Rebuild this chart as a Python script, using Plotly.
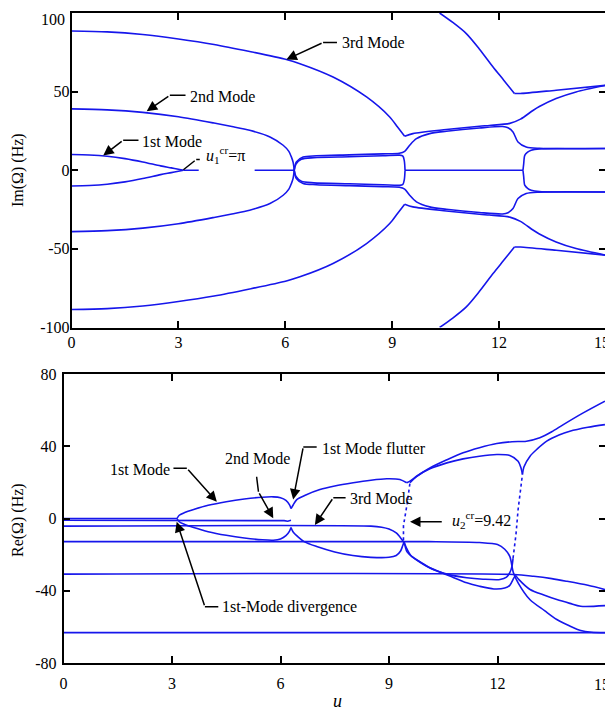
import plotly.graph_objects as go

# ---------------- Top panel: Im(Omega) (Hz) -- upper branches (lower half is the conjugate) --------------
u_t_mode1 = [0, 0.5, 1.0, 1.5, 2.0, 2.5, 2.8, 3.0, 3.14]
im_t_mode1 = [10, 9.7, 8.9, 7.4, 5.3, 2.8, 1.5, 0.6, 0]

u_t_zero_a = [3.14, 3.57]
im_t_zero_a = [0, 0]
u_t_zero_b = [5.14, 6.25]
im_t_zero_b = [0, 0]

u_t_mode2 = [0, 1, 2, 3, 4, 4.5, 5.0, 5.57, 5.94, 6.1, 6.17, 6.22, 6.25]
im_t_mode2 = [39, 38.4, 36.8, 34, 30, 27.8, 25.4, 21.2, 15.9, 12, 8.5, 5, 0]

u_t_mode3a = [0, 1, 2, 3, 4, 5, 6.03, 6.41, 7.34, 8.28, 8.93, 9.15, 9.35]
im_t_mode3a = [88.6, 88, 86.3, 83.5, 80, 75.5, 70.4, 67.8, 59.3, 46.6, 33.9, 27.5, 21.6]
u_t_mode3b = [9.35, 9.58, 10.52, 11.45, 11.73, 12.3, 12.6, 12.95, 13.13, 13.6, 14.16, 15]
im_t_mode3b = [21.6, 23.3, 25.9, 28, 28.5, 29.8, 32.5, 38, 40.5, 45.6, 49.8, 54]

u_t_flut_a = [6.25, 6.31, 6.5, 6.87, 7.8, 8.74, 9.2, 9.35, 9.49, 9.68, 10.05, 10.52, 11.45,
              12.1, 12.25, 12.39, 12.53, 12.76, 13.13, 15]
im_t_flut_a = [0, 5.3, 8.4, 9.2, 9.8, 10.4, 10.8, 12, 15.9, 20.1, 23.3, 24.8, 26.9,
               27.8, 27, 24.4, 18, 14.8, 13.9, 13.8]

u_t_flut_b1 = [6.25, 6.3, 6.45, 6.8, 7.8, 8.74, 9.2, 9.3, 9.34, 9.36]
im_t_flut_b1 = [0, 4, 7, 8, 8.6, 9.2, 9.6, 9, 6, 0]
u_t_zero_c = [9.36, 12.67]
im_t_zero_c = [0, 0]
u_t_flut_b2 = [12.67, 12.69, 12.72, 12.8, 12.9, 13.13, 14, 15]
im_t_flut_b2 = [0, 4, 9.5, 11.5, 12.7, 13.6, 13.8, 13.8]

u_t_mode4a = [10.33, 10.7, 11.08, 11.45, 11.83, 12.13, 12.43]
im_t_mode4a = [100, 94, 86.9, 77, 65.7, 57.3, 48.8]
u_t_mode4b = [12.43, 12.6, 13.6, 15]
im_t_mode4b = [48.8, 48.8, 50.9, 54]

# ---------------- Bottom panel: Re(Omega) (Hz) ----------------
u_b_m1_zero = [0, 3.14]
re_b_m1_zero = [0, 0]
u_b_loop_up = [3.14, 3.2, 3.35, 3.6, 4.0, 4.5, 5.0, 5.5, 5.8, 6.0, 6.15, 6.25, 6.29]
re_b_loop_up = [0, 1.8, 3.3, 5, 7.3, 9.3, 10.8, 11.8, 12, 11.5, 10, 7.5, 5.5]
u_b_flut_up = [6.29, 6.35, 6.45, 6.7, 7.09, 7.5, 8.01, 8.5, 8.94, 9.3, 9.49]
re_b_flut_up = [5.5, 7.5, 10.5, 13, 16, 18, 19.8, 21.2, 22, 21.6, 19.8]
u_b_top = [9.49, 9.6, 9.76, 10.13, 10.6, 11.05, 11.5, 11.98, 12.4, 12.8, 13.17, 13.5, 13.82,
           14.37, 14.97]
re_b_top = [19.8, 21, 23.4, 28, 32.5, 36.4, 39.2, 41.5, 42.5, 42.8, 44.7, 48, 52, 58.5, 65]

u_b_loop_low = [3.14, 3.2, 3.35, 3.6, 4.0, 4.5, 5.0, 5.5, 5.8, 6.0, 6.15, 6.25, 6.29]
re_b_loop_low = [0, -1.8, -3.3, -5, -7.3, -9.3, -10.8, -11.8, -12, -11.3, -9.5, -7, -5]
u_b_flut_low = [6.29, 6.35, 6.5, 6.65, 7.0, 7.5, 8.0, 8.5, 9.0, 9.2, 9.32, 9.38, 9.42]
re_b_flut_low = [-5, -7.5, -10.5, -12.8, -15.5, -18.5, -20.5, -21.5, -21.5, -20.5, -18, -15,
                 -12.8]
u_b_x = [9.42, 9.5, 9.7, 10.04, 10.4, 10.7, 11.15, 11.5, 11.9, 12.2, 12.34, 12.45, 12.5]
re_b_x = [-12.8, -18.5, -22, -26.4, -29.5, -32, -35.6, -37.5, -39, -38.5, -37, -33, -31.5]
u_b_c = [12.5, 12.6, 12.9, 13.3, 13.64, 14.0, 14.3, 15]
re_b_c = [-31.5, -34, -39.3, -42.5, -44.9, -47, -48.6, -48.2]

u_b_mode2 = [0, 3, 5.8, 6.1, 6.2, 6.29]
re_b_mode2 = [-1.0, -1.0, -1.0, -1.2, -1.5, -1.0]

u_b_mode3 = [0, 8.5, 8.8, 9.0, 9.2, 9.35, 9.42, 9.5, 9.62, 9.9, 10.22, 10.6, 11.15, 11.6,
             12.07, 12.25, 12.34, 12.4, 12.43]
re_b_mode3 = [-4.2, -4.2, -4.8, -5.8, -8, -11.5, -13.5, -17, -20.9, -24.5, -28.2, -30.8, -32.8,
              -33.6, -33.8, -32.5, -30, -26.5, -22]

u_b_jump1 = [9.40, 9.40, 9.5, 9.58]
re_b_jump1 = [-12, -4, 8, 19.8]

u_b_branch_a = [9.58, 9.76, 10.13, 10.6, 11.05, 11.5, 11.98, 12.34, 12.57, 12.65, 12.69]
re_b_branch_a = [19.8, 23.2, 27.5, 30.8, 33, 34.5, 35.4, 34.9, 31.7, 28, 24.4]
u_b_branch_b = [12.69, 12.73, 12.9, 13.1, 13.36, 13.7, 14.0, 14.5, 14.97]
re_b_branch_b = [24.4, 28.5, 34.5, 38.5, 42.8, 46.2, 48.3, 50.5, 52]

u_b_jump2 = [12.43, 12.51, 12.57, 12.63, 12.69]
re_b_jump2 = [-22, -9, 5, 15, 24.4]

u_b_line13 = [0, 10.1, 11.5, 12.0, 12.2, 12.34, 12.44, 12.57, 12.9, 13.3, 13.64, 14.0, 14.3,
              14.6, 15]
re_b_line13 = [-12.8, -12.8, -13.3, -14.4, -17, -21, -30, -35.6, -45, -51, -55.9, -59.5, -62,
               -63, -63.3]

u_b_line31 = [0, 12.44, 13.0, 13.5, 13.9, 14.5, 15]
re_b_line31 = [-30.8, -31, -32, -33.3, -34.7, -37, -39.5]

u_b_line63 = [0, 15]
re_b_line63 = [-63.2, -63.2]

# tick values / labels (edge labels "100" and "15" are placed as annotations so they stay inside)
x_ticks = [0, 3, 6, 9, 12, 15]
x_ticktext = ["0", "3", "6", "9", "12", ""]
y_ticks_top = [-100, -50, 0, 50, 100]
y_ticktext_top = ["-100", "-50", "0", "50", ""]
y_ticks_bot = [-80, -40, 0, 40, 80]
y_ticktext_bot = ["-80", "-40", "0", "40", "80"]

BLUE = "rgb(22,22,235)"
LW = 1.6
FONT = "Liberation Serif"
OFF = 8            # page body margin of the html page
W, H = 613 - OFF, 713 - OFF


def xd(px):
    return (px - OFF) / W


def yd(py):
    return 1 - (py - OFF) / H


fig = go.Figure()


def add(u, v, xa, ya, dash="solid", smooth=True):
    fig.add_trace(go.Scatter(x=u, y=v, xaxis=xa, yaxis=ya, mode="lines",
                             line=dict(color=BLUE, width=LW, dash=dash,
                                       shape="spline" if smooth else "linear",
                                       smoothing=0.8),
                             hoverinfo="skip", showlegend=False))


# top (plus conjugate halves)
for u, v in [(u_t_mode1, im_t_mode1), (u_t_mode2, im_t_mode2), (u_t_mode3a, im_t_mode3a),
             (u_t_mode3b, im_t_mode3b), (u_t_flut_a, im_t_flut_a),
             (u_t_flut_b1, im_t_flut_b1), (u_t_flut_b2, im_t_flut_b2),
             (u_t_mode4a, im_t_mode4a), (u_t_mode4b, im_t_mode4b)]:
    add(u, v, "x", "y")
    add(u, [-a for a in v], "x", "y")
for u, v in [(u_t_zero_a, im_t_zero_a), (u_t_zero_b, im_t_zero_b), (u_t_zero_c, im_t_zero_c)]:
    add(u, v, "x", "y", smooth=False)

# bottom
for u, v in [(u_b_loop_up, re_b_loop_up), (u_b_flut_up, re_b_flut_up), (u_b_top, re_b_top),
             (u_b_loop_low, re_b_loop_low), (u_b_flut_low, re_b_flut_low), (u_b_x, re_b_x),
             (u_b_c, re_b_c), (u_b_mode3, re_b_mode3), (u_b_branch_a, re_b_branch_a),
             (u_b_branch_b, re_b_branch_b), (u_b_line13, re_b_line13),
             (u_b_line31, re_b_line31)]:
    add(u, v, "x2", "y2")
for u, v in [(u_b_m1_zero, re_b_m1_zero), (u_b_mode2, re_b_mode2), (u_b_line63, re_b_line63)]:
    add(u, v, "x2", "y2", smooth=False)
add(u_b_jump1, re_b_jump1, "x2", "y2", dash="dot", smooth=False)
add(u_b_jump2, re_b_jump2, "x2", "y2", dash="dot", smooth=False)

axis_common = dict(showline=True, linecolor="black", linewidth=1.5, mirror="ticks",
                   ticks="inside", ticklen=7, tickwidth=1.5, tickcolor="black",
                   showgrid=False, zeroline=False, automargin=False,
                   tickfont=dict(family=FONT, size=16, color="black"))

fig.update_layout(
    width=W, height=H, margin=dict(l=0, r=0, t=0, b=0),
    plot_bgcolor="white", paper_bgcolor="white", showlegend=False,
    xaxis=dict(domain=[xd(71.5), xd(606)], anchor="y", range=[0, 15], tickvals=x_ticks,
               ticktext=x_ticktext, ticklabelstandoff=0, **axis_common),
    yaxis=dict(domain=[yd(327.5), yd(13)], anchor="x", range=[-100, 100],
               tickvals=y_ticks_top, ticktext=y_ticktext_top, ticklabelstandoff=-3,
               **axis_common),
    xaxis2=dict(domain=[xd(63.5), xd(606)], anchor="y2", range=[0, 15], tickvals=x_ticks,
                ticktext=x_ticktext, ticklabelstandoff=5, **axis_common),
    yaxis2=dict(domain=[yd(663), yd(374)], anchor="x2", range=[-80, 80],
                tickvals=y_ticks_bot, ticktext=y_ticktext_bot, ticklabelstandoff=2,
                **axis_common),
)

tf = dict(family=FONT, size=16, color="black")
ann = []
shapes = []


def text(xr, yr, x, y, t, anchor="left"):
    ann.append(dict(xref=xr, yref=yr, x=x, y=y, text=t, showarrow=False, font=tf,
                    xanchor=anchor, yanchor="middle"))


def arrow(xr, yr, x0, y0, x1, y1, head=2):
    ann.append(dict(xref=xr, yref=yr, axref=xr, ayref=yr, x=x1, y=y1, ax=x0, ay=y0, text="",
                    showarrow=True, arrowhead=head, arrowsize=1.4, arrowwidth=1.5,
                    arrowcolor="black", standoff=0, startstandoff=0))


def seg(xr, yr, x0, y0, x1, y1):
    shapes.append(dict(type="line", xref=xr, yref=yr, x0=x0, y0=y0, x1=x1, y1=y1,
                       line=dict(color="black", width=1.5)))


# top annotations
text("x", "y", 7.53, 81.4, "3rd Mode")
seg("x", "y", 7.06, 81.2, 7.45, 81.2)
arrow("x", "y", 7.06, 81.2, 6.03, 70.4)

text("x", "y", 3.27, 47.2, "2nd Mode")
seg("x", "y", 2.76, 47.7, 3.2, 47.7)
arrow("x", "y", 2.76, 47.7, 2.11, 37.5)

text("x", "y", 1.92, 18.5, "1st Mode")
seg("x", "y", 1.45, 19.1, 1.88, 19.1)
arrow("x", "y", 1.45, 19.1, 0.89, 9.4)

text("x", "y", 3.72, 9.5, "<i>u</i><sub>1</sub><sup>cr</sup>=π")
seg("x", "y", 3.6, 6.8, 3.5, 6.8)
arrow("x", "y", 3.5, 6.8, 3.14, 0.3, head=0)

# bottom annotations
text("x2", "y2", 3.0, 27.2, "1st Mode", anchor="right")
seg("x2", "y2", 3.04, 27.8, 3.41, 27.8)
arrow("x2", "y2", 3.41, 27.8, 4.24, 9.3)

text("x2", "y2", 4.41, 33.3, "2nd Mode")
seg("x2", "y2", 5.34, 23.1, 5.39, 14.8)
arrow("x2", "y2", 5.39, 14.8, 5.8, 0.1)

text("x2", "y2", 7.09, 38.9, "1st Mode flutter")
seg("x2", "y2", 7.0, 39.6, 6.63, 39.6)
arrow("x2", "y2", 6.63, 39.6, 6.35, 10.5)

text("x2", "y2", 7.87, 10.8, "3rd Mode")
seg("x2", "y2", 7.8, 11.5, 7.46, 11.5)
arrow("x2", "y2", 7.46, 11.5, 6.95, -3.6)

text("x2", "y2", 10.69, -0.8, "<i>u</i><sub>2</sub><sup>cr</sup>=9.42")
arrow("x2", "y2", 10.5, -1.8, 9.58, -1.8)

text("x2", "y2", 4.33, -48.8, "1st-Mode divergence")
seg("x2", "y2", 4.28, -48.8, 3.91, -48.8)
arrow("x2", "y2", 3.91, -48.8, 3.13, -1.8)

# edge tick labels kept inside the page
ann.append(dict(xref="paper", yref="paper", x=xd(67), y=yd(9), text="100", showarrow=False,
                font=tf, xanchor="right", yanchor="top"))
ann.append(dict(xref="paper", yref="paper", x=xd(612), y=yd(342), text="15", showarrow=False,
                font=tf, xanchor="right", yanchor="middle"))
ann.append(dict(xref="paper", yref="paper", x=xd(612), y=yd(684), text="15", showarrow=False,
                font=tf, xanchor="right", yanchor="middle"))

# axis titles
ann.append(dict(xref="paper", yref="paper", x=xd(18), y=yd(170), text="Im(Ω) (Hz)",
                textangle=-90, showarrow=False, font=tf, xanchor="center", yanchor="middle"))
ann.append(dict(xref="paper", yref="paper", x=xd(18), y=yd(520), text="Re(Ω) (Hz)",
                textangle=-90, showarrow=False, font=tf, xanchor="center", yanchor="middle"))
ann.append(dict(xref="paper", yref="paper", x=xd(337), y=0, text="<i>u</i>",
                showarrow=False, font=dict(family=FONT, size=18, color="black"),
                xanchor="center", yanchor="bottom"))

fig.update_layout(annotations=ann, shapes=shapes)
fig.write_html("out.html")
